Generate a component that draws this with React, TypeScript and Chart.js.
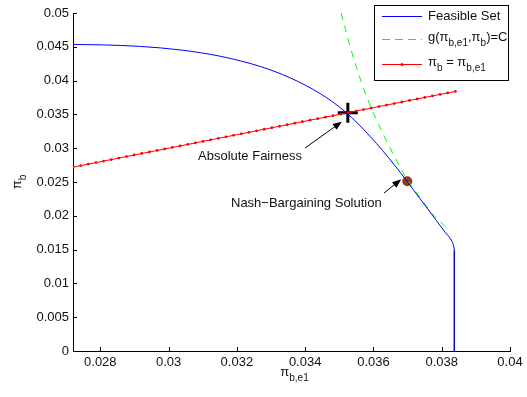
import React, { useEffect, useRef } from "react";
import { Chart, registerables } from "chart.js";

Chart.register(...registerables);

// Feasible set boundary (pi_b,e1 , pi_b)
const feasibleX = [0.02721, 0.028, 0.029171, 0.030341, 0.031512, 0.032683, 0.03356, 0.034438, 0.03517, 0.035902, 0.036633, 0.037365, 0.038097, 0.038302, 0.038349, 0.038369];
const feasibleY = [0.045349, 0.045291, 0.045058, 0.044535, 0.043605, 0.042093, 0.040407, 0.038081, 0.035407, 0.031759, 0.027398, 0.022529, 0.017587, 0.016206, 0.015552, 0.014898];
const feasibleEdgeX = [0.038369, 0.038369];
const feasibleEdgeY = [0.014898, 0];

// Level curve g(pi_b,e1, pi_b) = C
const levelX = [0.035053, 0.035316, 0.035594, 0.035881, 0.036282, 0.036692, 0.036985, 0.037307, 0.037745, 0.038184];
const levelY = [0.05, 0.045058, 0.040552, 0.036584, 0.032122, 0.028052, 0.025363, 0.02311, 0.020203, 0.018023];

// Equal-share line pi_b = pi_b,e1 (same values on both axes)
const equalLine = [0.0272, 0.027424, 0.027648, 0.027872, 0.028096, 0.02832, 0.028544, 0.028768, 0.028992, 0.029216, 0.02944, 0.029664, 0.029888, 0.030112, 0.030336, 0.03056, 0.030784, 0.031008, 0.031232, 0.031456, 0.03168, 0.031904, 0.032128, 0.032352, 0.032576, 0.0328, 0.033024, 0.033248, 0.033472, 0.033696, 0.03392, 0.034144, 0.034368, 0.034592, 0.034816, 0.03504, 0.035264, 0.035488, 0.035712, 0.035936, 0.03616, 0.036384, 0.036608, 0.036832, 0.037056, 0.03728, 0.037504, 0.037728, 0.037952, 0.038176, 0.0384];

const fairnessX = [0.03525];
const fairnessY = [0.03525];
const nashX = [0.03699];
const nashY = [0.0251];

const xTicks = [0.028, 0.03, 0.032, 0.034, 0.036, 0.038, 0.04];
const yTicks = [0, 0.005, 0.01, 0.015, 0.02, 0.025, 0.03, 0.035, 0.04, 0.045, 0.05];
const xMin = 0.0272;
const xMax = 0.04;
const yMin = 0;
const yMax = 0.05;

const FONT = "'Liberation Sans', Arial, Helvetica, sans-serif";
const TEXT = "#111";
const MAIN = 13;
const SUB = 10;

type Part = [string, boolean];

function richWidth(ctx: CanvasRenderingContext2D, parts: Part[]) {
  let w = 0;
  for (const [t, sub] of parts) {
    ctx.font = (sub ? SUB : MAIN) + "px " + FONT;
    w += ctx.measureText(t).width;
  }
  return w;
}

function drawRich(ctx: CanvasRenderingContext2D, parts: Part[], x: number, y: number) {
  let cx = x;
  ctx.textBaseline = "middle";
  ctx.textAlign = "left";
  for (const [t, sub] of parts) {
    ctx.font = (sub ? SUB : MAIN) + "px " + FONT;
    ctx.fillText(t, cx, sub ? y + 6 : y);
    cx += ctx.measureText(t).width;
  }
}

function arrow(ctx: CanvasRenderingContext2D, x1: number, y1: number, x2: number, y2: number) {
  const ang = Math.atan2(y2 - y1, x2 - x1);
  const hl = 9;
  const hw = 3.5;
  ctx.strokeStyle = "#000";
  ctx.fillStyle = "#000";
  ctx.lineWidth = 1;
  ctx.beginPath();
  ctx.moveTo(x1, y1);
  ctx.lineTo(x2 - Math.cos(ang) * hl * 0.8, y2 - Math.sin(ang) * hl * 0.8);
  ctx.stroke();
  ctx.beginPath();
  ctx.moveTo(x2, y2);
  ctx.lineTo(x2 - Math.cos(ang) * hl - Math.sin(ang) * hw, y2 - Math.sin(ang) * hl + Math.cos(ang) * hw);
  ctx.lineTo(x2 - Math.cos(ang) * hl + Math.sin(ang) * hw, y2 - Math.sin(ang) * hl - Math.cos(ang) * hw);
  ctx.closePath();
  ctx.fill();
}

const decorPlugin = {
  id: "decor",
  afterDraw(chart: any) {
    const ctx: CanvasRenderingContext2D = chart.ctx;
    const xs = chart.scales.x;
    const ys = chart.scales.y;
    const area = chart.chartArea;
    ctx.save();
    // inward ticks
    ctx.strokeStyle = "#000";
    ctx.lineWidth = 1;
    ctx.beginPath();
    for (const v of xTicks) {
      const px = Math.round(xs.getPixelForValue(v)) + 0.5;
      ctx.moveTo(px, area.bottom);
      ctx.lineTo(px, area.bottom - 4);
    }
    for (const v of yTicks) {
      const py = Math.round(ys.getPixelForValue(v)) + 0.5;
      ctx.moveTo(area.left, py);
      ctx.lineTo(area.left + 4, py);
    }
    ctx.stroke();

    ctx.fillStyle = TEXT;
    // x title
    const xt: Part[] = [["π", false], ["b,e1", true]];
    const xw = richWidth(ctx, xt);
    drawRich(ctx, xt, (area.left + area.right) / 2 - xw / 2 + 3, 372);
    // y title (rotated)
    ctx.save();
    ctx.translate(17, (area.top + area.bottom) / 2);
    ctx.rotate(-Math.PI / 2);
    const yt: Part[] = [["π", false], ["b", true]];
    const yw = richWidth(ctx, yt);
    drawRich(ctx, yt, -yw / 2, 0);
    ctx.restore();

    // annotations
    ctx.fillStyle = TEXT;
    ctx.font = MAIN + "px " + FONT;
    ctx.textAlign = "left";
    ctx.textBaseline = "middle";
    ctx.fillText("Absolute Fairness", 198, 156);
    ctx.fillText("Nash\u2212Bargaining Solution", 231, 203);
    const fx = xs.getPixelForValue(fairnessX[0]);
    const fy = ys.getPixelForValue(fairnessY[0]);
    arrow(ctx, 305, 148, fx - 6, fy + 9);
    const nx = xs.getPixelForValue(nashX[0]);
    const ny = ys.getPixelForValue(nashY[0]);
    arrow(ctx, 384, 193, nx - 6, ny - 2);

    // legend
    const bx = 374.5, by = 5.5, bw = 134, bh = 75;
    ctx.fillStyle = "#fff";
    ctx.fillRect(bx, by, bw, bh);
    ctx.strokeStyle = "#000";
    ctx.lineWidth = 1;
    ctx.strokeRect(bx, by, bw, bh);
    const lx1 = 382, lx2 = 422, tx = 428;
    const rows = [16.5, 39.5, 64.5];
    ctx.lineWidth = 1;
    ctx.strokeStyle = "#0000FF";
    ctx.beginPath();
    ctx.moveTo(lx1, rows[0]);
    ctx.lineTo(lx2, rows[0]);
    ctx.stroke();
    ctx.strokeStyle = "#00FF00";
    ctx.setLineDash([8, 5]);
    ctx.beginPath();
    ctx.moveTo(lx1, rows[1]);
    ctx.lineTo(lx2, rows[1]);
    ctx.stroke();
    ctx.setLineDash([]);
    ctx.strokeStyle = "#FF0000";
    ctx.beginPath();
    ctx.moveTo(lx1, rows[2]);
    ctx.lineTo(lx2, rows[2]);
    ctx.stroke();
    ctx.fillStyle = "#FF0000";
    ctx.beginPath();
    ctx.arc((lx1 + lx2) / 2, rows[2], 1.6, 0, Math.PI * 2);
    ctx.fill();
    ctx.fillStyle = TEXT;
    drawRich(ctx, [["Feasible Set", false]], tx, rows[0]);
    drawRich(ctx, [["g(π", false], ["b,e1", true], [",π", false], ["b", true], [")=C", false]], tx, rows[1] - 2);
    drawRich(ctx, [["π", false], ["b", true], [" = π", false], ["b,e1", true]], tx, rows[2] - 2);
    ctx.restore();
  },
};

function pts(xs: number[], ys: number[]) {
  return xs.map((x, i) => ({ x, y: ys[i] }));
}

export default function App() {
  const ref = useRef<HTMLCanvasElement>(null);
  useEffect(() => {
    if (!ref.current) return;
    const chart = new Chart(ref.current, {
      type: "scatter",
      data: {
        datasets: [
          {
            label: "Feasible Set",
            data: pts(feasibleX, feasibleY),
            showLine: true,
            borderColor: "#0000FF",
            borderWidth: 1,
            pointRadius: 0,
            cubicInterpolationMode: "monotone",
          },
          {
            label: "edge",
            data: pts(feasibleEdgeX, feasibleEdgeY),
            showLine: true,
            borderColor: "#0000FF",
            borderWidth: 1,
            pointRadius: 0,
          },
          {
            label: "g=C",
            data: pts(levelX, levelY),
            showLine: true,
            borderColor: "#00FF00",
            borderDash: [7, 6],
            borderWidth: 1,
            pointRadius: 0,
            cubicInterpolationMode: "monotone",
          },
          {
            label: "equal",
            data: pts(equalLine, equalLine),
            showLine: true,
            borderColor: "#FF0000",
            backgroundColor: "#FF0000",
            borderWidth: 1,
            pointRadius: 1.4,
            pointBorderWidth: 0,
          },
          {
            label: "fairness",
            data: pts(fairnessX, fairnessY),
            pointStyle: "cross",
            pointRadius: 10,
            pointBorderWidth: 3,
            borderColor: "#000",
          },
          {
            label: "nash",
            data: pts(nashX, nashY),
            pointRadius: 5,
            backgroundColor: "#9E3A12",
            borderColor: "#9E3A12",
            pointBorderWidth: 0,
          },
        ],
      } as any,
      plugins: [decorPlugin],
      options: {
        animation: false,
        responsive: false,
        layout: { padding: { left: 0, top: 7, right: 17, bottom: 0 } },
        plugins: { legend: { display: false }, tooltip: { enabled: false } },
        scales: {
          x: {
            type: "linear",
            min: xMin,
            max: xMax,
            afterBuildTicks: (s: any) => {
              s.ticks = xTicks.map((v) => ({ value: v }));
            },
            afterFit: (s: any) => {
              s.height = 46;
            },
            grid: { display: false, drawTicks: false },
            border: { display: true, color: "#000", width: 1 },
            ticks: {
              color: TEXT,
              font: { family: FONT, size: MAIN },
              padding: 4,
              maxRotation: 0,
              autoSkip: false,
              callback: (v: any) => String(Number(Number(v).toFixed(4))),
            },
          },
          y: {
            type: "linear",
            min: yMin,
            max: yMax,
            afterBuildTicks: (s: any) => {
              s.ticks = yTicks.map((v) => ({ value: v }));
            },
            afterFit: (s: any) => {
              s.width = 73;
            },
            grid: { display: false, drawTicks: false },
            border: { display: true, color: "#000", width: 1 },
            ticks: {
              color: TEXT,
              font: { family: FONT, size: MAIN },
              padding: 4,
              autoSkip: false,
              callback: (v: any) => String(Number(Number(v).toFixed(4))),
            },
          },
        },
      } as any,
    });
    return () => chart.destroy();
  }, []);
  return (
    <div style={{ position: "fixed", left: 0, top: 0, width: 527, height: 397, background: "#fff" }}>
      <canvas ref={ref} width={527} height={397} style={{ display: "block" }} />
    </div>
  );
}
